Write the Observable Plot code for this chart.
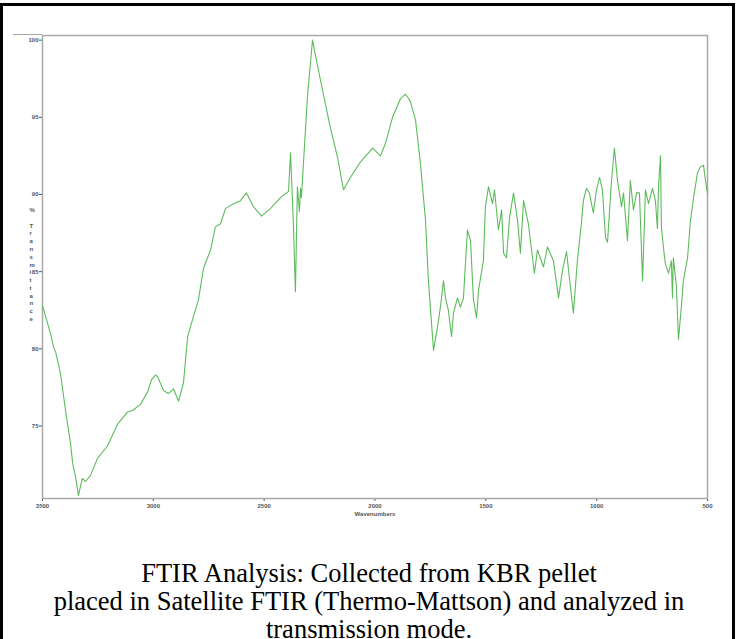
<!DOCTYPE html>
<html><head><meta charset="utf-8">
<script src="https://cdn.jsdelivr.net/npm/d3@7"></script>
<script src="https://cdn.jsdelivr.net/npm/@observablehq/plot@0.6"></script>
<style>
body{margin:0;background:#fff;width:738px;height:639px;position:relative;overflow:hidden;}
#box{position:absolute;left:0;top:3px;width:729px;height:660px;border:3px solid #000;}
#chart{position:absolute;left:0;top:0;}
#chart svg text{font-weight:bold;}
#ext{position:absolute;left:13px;top:34px;width:29px;height:0;border-top:1.5px solid #a8a8a8;}
#caption{position:absolute;left:0;width:738px;top:560px;text-align:center;font-family:"Liberation Serif","Times New Roman",serif;font-size:26.5px;line-height:27.8px;color:#000;}
</style></head>
<body>
<div id="box"></div>
<div id="chart"></div>
<div id="ext"></div>
<div id="caption">FTIR Analysis: Collected from KBR pellet<br>placed in Satellite FTIR (Thermo-Mattson) and analyzed in<br>transmission mode.</div>
<script>
const wavenumbers = [3500,3464,3450,3441,3419,3396,3374,3364,3351,3338,3320,3306,3283,3252,3207,3162,3117,3094,3058,3026,3008,2990,2981,2954,2932,2909,2886,2864,2845,2819,2796,2774,2742,2720,2697,2674,2638,2607,2580,2548,2512,2471,2426,2390,2381,2368,2359,2350,2341,2336,2332,2305,2282,2246,2201,2169,2142,2111,2066,2011,1975,1953,1921,1885,1863,1852,1840,1817,1795,1772,1759,1736,1718,1705,1691,1682,1669,1655,1646,1628,1615,1601,1583,1569,1556,1542,1533,1511,1502,1488,1470,1461,1443,1429,1420,1407,1393,1375,1357,1344,1330,1308,1281,1267,1240,1222,1195,1172,1154,1136,1123,1105,1087,1069,1060,1046,1033,1015,1001,987,974,960,951,933,920,906,888,879,861,848,834,820,807,793,780,766,748,735,726,721,712,708,699,690,676,663,658,654,640,631,618,609,590,577,563,545,532,518,509,500];
const transmittance = [82.8,81.0,80.1,79.8,78.4,76.0,73.9,72.6,71.7,70.5,71.6,71.4,71.8,72.9,73.7,75.1,75.9,76.0,76.4,77.2,78.0,78.3,78.2,77.3,77.1,77.4,76.6,77.8,80.8,82.1,83.2,85.2,86.4,87.9,88.1,89.1,89.4,89.6,90.1,89.2,88.6,89.1,89.8,90.2,92.7,88.0,83.7,90.5,88.9,90.4,89.8,96.3,100.0,97.4,94.3,92.4,90.3,91.1,92.1,93.0,92.5,93.3,95.0,96.2,96.5,96.3,96.0,94.8,92.0,88.3,84.4,79.9,81.4,82.7,84.4,83.3,82.5,80.8,82.3,83.3,82.7,83.3,87.7,87.0,83.2,82.0,83.8,85.7,89.2,90.5,89.4,90.3,87.7,89.0,86.2,85.9,88.5,90.1,88.3,86.2,89.6,88.1,84.9,86.4,85.3,86.6,85.7,83.3,85.1,86.3,84.6,82.3,85.7,88.1,89.6,90.4,90.1,88.8,90.3,91.1,90.3,87.2,86.9,90.9,93.0,90.9,89.2,90.1,87.0,90.9,89.0,90.1,90.1,84.4,90.3,89.4,90.4,89.6,87.8,90.5,92.5,87.9,86.6,85.5,84.9,85.7,83.3,85.9,84.0,80.6,82.7,84.4,85.9,88.3,89.8,91.4,91.8,91.9,90.9,90.1];
const xTicks = [3500,3000,2500,2000,1500,1000,500];
const yTicks = [75,80,85,90,95,100];
const xLabel = "Wavenumbers";
const yLabel = "%\n\nT\nr\na\nn\ns\nm\ni\nt\nt\na\nn\nc\ne";

const data = wavenumbers.map((w, i) => ({w, t: transmittance[i]}));

const plot = Plot.plot({
  width: 738, height: 530,
  marginTop: 35, marginLeft: 42, marginRight: 31, marginBottom: 32,
  style: {fontFamily: "'Liberation Sans', Arial, sans-serif", fontSize: "6px", background: "transparent", color: "#555"},
  x: {domain: [3500, 500], ticks: xTicks, tickSize: 3, tickPadding: 2, label: null, tickFormat: d => String(d)},
  y: {domain: [70.3, 100.3], ticks: yTicks, tickSize: 3, tickPadding: 1, label: null},
  marks: [
    Plot.frame({stroke: "#a8a8a8", strokeWidth: 1.5}),
    Plot.line(data, {x: "w", y: "t", stroke: "#5cbc5c", strokeWidth: 1.1}),
    Plot.text([xLabel], {frameAnchor: "bottom", dy: 17, fill: "#555", fontSize: 6}),
    Plot.text([yLabel], {frameAnchor: "left", dx: -13, dy: -3, lineHeight: 1.3, fill: "#555", fontSize: 6})
  ]
});
document.getElementById("chart").appendChild(plot);
</script>
</body></html>
